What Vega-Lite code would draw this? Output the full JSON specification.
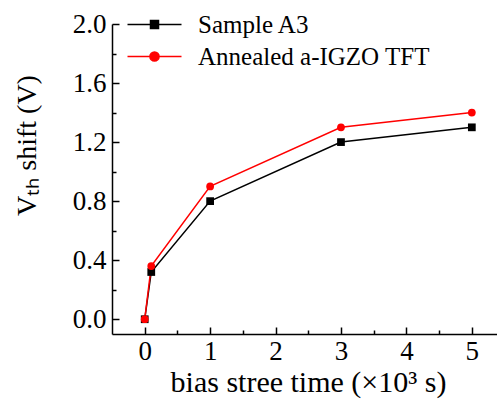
{
  "$schema": "https://vega.github.io/schema/vega-lite/v6.json",
  "autosize": "none",
  "padding": {"left": 112, "top": 24, "right": 0, "bottom": 69},
  "width": 386,
  "height": 310,
  "background": "white",
  "config": {
    "view": {"stroke": null},
    "font": "Liberation Serif",
    "axis": {"grid": false, "domainColor": "black", "domainWidth": 1.5, "tickColor": "black", "tickWidth": 1.5,
      "labelFont": "Liberation Serif", "labelFontSize": 27, "labelColor": "black",
      "titleFont": "Liberation Serif", "titleFontSize": 30, "titleFontWeight": "normal", "titleColor": "black"}
  },
  "data": {"values": [
    {"t": 0, "v": 0, "series": "Sample A3"},
    {"t": 0.1, "v": 0.32, "series": "Sample A3"},
    {"t": 1, "v": 0.8, "series": "Sample A3"},
    {"t": 3, "v": 1.2, "series": "Sample A3"},
    {"t": 5, "v": 1.3, "series": "Sample A3"},
    {"t": 0, "v": 0, "series": "Annealed a-IGZO TFT"},
    {"t": 0.1, "v": 0.36, "series": "Annealed a-IGZO TFT"},
    {"t": 1, "v": 0.9, "series": "Annealed a-IGZO TFT"},
    {"t": 3, "v": 1.3, "series": "Annealed a-IGZO TFT"},
    {"t": 5, "v": 1.4, "series": "Annealed a-IGZO TFT"}
  ]},
  "encoding": {
    "x": {"field": "t", "type": "quantitative",
      "scale": {"domain": [-0.5, 5.4], "nice": false, "zero": false},
      "axis": {"title": "bias stree time (×10³ s)", "values": [0, 0.5, 1, 1.5, 2, 2.5, 3, 3.5, 4, 4.5, 5],
        "labelExpr": "round(datum.value*2)%2==0 ? format(datum.value,'d') : ''",
        "tickSize": {"condition": {"test": "round(datum.value*2)%2==0", "value": -7}, "value": -4},
        "labelPadding": 11, "titlePadding": 3, "titleX": 196}},
    "y": {"field": "v", "type": "quantitative",
      "scale": {"domain": [-0.1, 2.0], "nice": false, "zero": false},
      "axis": {"title": "Vₜₕ shift (V)", "values": [0, 0.2, 0.4, 0.6, 0.8, 1.0, 1.2, 1.4, 1.6, 1.8, 2.0],
        "labelExpr": "round(datum.value*5)%2==0 ? format(datum.value,'.1f') : ''",
        "tickSize": {"condition": {"test": "round(datum.value*5)%2==0", "value": -7}, "value": -4},
        "labelPadding": 13, "labelBaseline": "middle", "titleY": 121, "titleX": -85, "titleAngle": -90, "titleBaseline": "middle", "titleFontSize": 28}},
    "color": {"field": "series", "type": "nominal",
      "scale": {"domain": ["Sample A3", "Annealed a-IGZO TFT"], "range": ["black", "red"]},
      "legend": {"title": null, "orient": "none", "legendX": 30, "legendY": -12,
        "labelFont": "Liberation Serif", "labelFontSize": 25, "labelColor": "black", "labelLimit": 400,
        "symbolSize": 100, "symbolStrokeWidth": 1.5, "labelOffset": 31, "rowPadding": 6,
        "encode": {"symbols": {"update": {
          "shape": {"signal": "datum.value === 'Sample A3' ? 'M-5.4,0H5.4M-0.8,-0.8H0.8V0.8H-0.8Z' : 'M-5.4,0H5.4M0.92,0A0.92,0.92 0 1,1 -0.92,0A0.92,0.92 0 1,1 0.92,0Z'"},
          "stroke": {"signal": "datum.value === 'Sample A3' ? 'black' : 'red'"},
          "fill": {"signal": "datum.value === 'Sample A3' ? 'black' : 'red'"},
          "strokeWidth": {"value": 1.5},
          "opacity": {"value": 1}
        }}}}}
  },
  "layer": [
    {"mark": {"type": "line", "strokeWidth": 1.5}},
    {"transform": [{"filter": "datum.series === 'Sample A3'"}],
     "mark": {"type": "point", "filled": true, "opacity": 1, "shape": "square", "size": 60}},
    {"transform": [{"filter": "datum.series === 'Annealed a-IGZO TFT'"}],
     "mark": {"type": "point", "filled": true, "opacity": 1, "shape": "circle", "size": 60}}
  ]
}
